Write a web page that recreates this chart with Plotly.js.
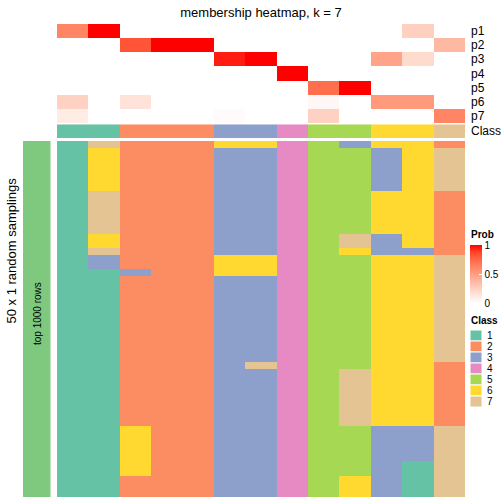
<!DOCTYPE html>
<html>
<head>
<meta charset="utf-8">
<script src="https://cdn.plot.ly/plotly-3.0.1.min.js"></script>
<style>html,body{margin:0;padding:0;background:#fff;}#chart{width:504px;height:504px;}</style>
</head>
<body>
<div id="chart"></div>
<script>
// ---- data ----
const rowLabels = ["p1","p2","p3","p4","p5","p6","p7"];
const p1 = [0.62,1,0,0,0,0,0,0,0,0,0,0.25,0];
const p2 = [0,0,0.82,1,1,0,0,0,0,0,0,0,0.37];
const p3 = [0,0,0,0,0,0.95,1,0,0,0,0.47,0.19,0];
const p4 = [0,0,0,0,0,0,0,1,0,0,0,0,0];
const p5 = [0,0,0,0,0,0,0,0,0.72,1,0,0,0];
const p6 = [0.24,0,0.15,0,0,0,0,0,0.04,0,0.52,0.52,0];
const p7 = [0.1,0,0,0,0,0.02,0,0,0.24,0,0,0,0.62];
const sampleClass = [1,1,2,2,2,3,3,4,5,5,6,6,7];
const classes = ["1","2","3","4","5","6","7"];
const classColors = ["#66C2A5","#FC8D62","#8DA0CB","#E78AC3","#A6D854","#FFD92F","#E5C494"];
const probTicks = [0,0.5,1];

// class per random sampling (50 rows) for each sample column
const s1  = [1,1,1,1,1,1,1,1,1,1,1,1,1,1,1,1,1,1,1,1,1,1,1,1,1,1,1,1,1,1,1,1,1,1,1,1,1,1,1,1,1,1,1,1,1,1,1,1,1,1];
const s2  = [7,6,6,6,6,6,6,7,7,7,7,7,7,6,6,7,3,3,1,1,1,1,1,1,1,1,1,1,1,1,1,1,1,1,1,1,1,1,1,1,1,1,1,1,1,1,1,1,1,1];
const s3  = [2,2,2,2,2,2,2,2,2,2,2,2,2,2,2,2,2,2,3,2,2,2,2,2,2,2,2,2,2,2,2,2,2,2,2,2,2,2,2,2,6,6,6,6,6,6,6,2,2,2];
const s4  = [2,2,2,2,2,2,2,2,2,2,2,2,2,2,2,2,2,2,2,2,2,2,2,2,2,2,2,2,2,2,2,2,2,2,2,2,2,2,2,2,2,2,2,2,2,2,2,2,2,2];
const s5  = [2,2,2,2,2,2,2,2,2,2,2,2,2,2,2,2,2,2,2,2,2,2,2,2,2,2,2,2,2,2,2,2,2,2,2,2,2,2,2,2,2,2,2,2,2,2,2,2,2,2];
const s6  = [6,3,3,3,3,3,3,3,3,3,3,3,3,3,3,3,6,6,6,3,3,3,3,3,3,3,3,3,3,3,3,3,3,3,3,3,3,3,3,3,3,3,3,3,3,3,3,3,3,3];
const s7  = [6,3,3,3,3,3,3,3,3,3,3,3,3,3,3,3,6,6,6,3,3,3,3,3,3,3,3,3,3,3,3,7,3,3,3,3,3,3,3,3,3,3,3,3,3,3,3,3,3,3];
const s8  = [4,4,4,4,4,4,4,4,4,4,4,4,4,4,4,4,4,4,4,4,4,4,4,4,4,4,4,4,4,4,4,4,4,4,4,4,4,4,4,4,4,4,4,4,4,4,4,4,4,4];
const s9  = [5,5,5,5,5,5,5,5,5,5,5,5,5,5,5,5,5,5,5,5,5,5,5,5,5,5,5,5,5,5,5,5,5,5,5,5,5,5,5,5,5,5,5,5,5,5,5,5,5,5];
const s10 = [3,5,5,5,5,5,5,5,5,5,5,5,5,7,7,6,5,5,5,5,5,5,5,5,5,5,5,5,5,5,5,5,7,7,7,7,7,7,7,7,5,5,5,5,5,5,5,6,6,6];
const s11 = [6,3,3,3,3,3,3,6,6,6,6,6,6,3,3,3,6,6,6,6,6,6,6,6,6,6,6,6,6,6,6,6,6,6,6,6,6,6,6,6,3,3,3,3,3,3,3,3,3,3];
const s12 = [6,6,6,6,6,6,6,6,6,6,6,6,6,6,6,3,6,6,6,6,6,6,6,6,6,6,6,6,6,6,6,6,6,6,6,6,6,6,6,6,3,3,3,3,3,1,1,1,1,1];
const s13 = [2,7,7,7,7,7,7,2,2,2,2,2,2,2,2,2,7,7,7,7,7,7,7,7,7,7,7,7,7,7,7,2,2,2,2,2,2,2,2,2,7,7,7,7,7,7,7,7,7,7];

const cols = [s1,s2,s3,s4,s5,s6,s7,s8,s9,s10,s11,s12,s13];
const nRows = s1.length;
const zBottom = [];
for (let r = 0; r < nRows; r++) zBottom.push(cols.map(c => c[r]));
const zTop = [p1,p2,p3,p4,p5,p6,p7];
const xIdx = sampleClass.map((_, i) => i);

// ---- styling ----
const W = 504, H = 504;
const px = v => v / W;
const py = v => 1 - v / H;
const FONT = "Liberation Sans, Arial, Helvetica, sans-serif";

const probScale = [[0,'#FFFFFF'],[0.125,'#FFE7DF'],[0.25,'#FFCFBF'],[0.375,'#FFB7A0'],
  [0.5,'#FF9E81'],[0.625,'#FF8464'],[0.75,'#FF6846'],[0.875,'#FF4527'],[1,'#FF0000']];
const classScale = [];
classColors.forEach((c, i) => {
  classScale.push([i / 7, c]);
  classScale.push([(i + 1) / 7, c]);
});

const traces = [
  { type: 'heatmap', z: zTop, x: xIdx, y: rowLabels.map((_, i) => i), xaxis: 'x', yaxis: 'y',
    colorscale: probScale, zmin: 0, zmax: 1, hoverinfo: 'skip',
    showscale: true,
    colorbar: { x: px(470), xanchor: 'left', y: py(274), yanchor: 'middle',
      thickness: 12, thicknessmode: 'pixels', len: 58, lenmode: 'pixels',
      xpad: 0, ypad: 0, outlinewidth: 0, tickvals: probTicks, ticktext: probTicks.map(String),
      ticks: 'inside', ticklen: 3, tickcolor: '#FFFFFF', tickwidth: 1,
      tickfont: { family: FONT, size: 10, color: '#000' } } },
  { type: 'heatmap', z: [sampleClass], x: xIdx, y: [0], xaxis: 'x', yaxis: 'y2',
    colorscale: classScale, zmin: 0.5, zmax: 7.5, showscale: false, hoverinfo: 'skip' },
  { type: 'heatmap', z: zBottom, x: xIdx, y: zBottom.map((_, i) => i), xaxis: 'x', yaxis: 'y3',
    colorscale: classScale, zmin: 0.5, zmax: 7.5, showscale: false, hoverinfo: 'skip' },
  { type: 'heatmap', z: [[1]], x: [0], y: [0], xaxis: 'x2', yaxis: 'y4',
    colorscale: [[0,'#7FC97F'],[1,'#7FC97F']], showscale: false, hoverinfo: 'skip' }
];

const hidden = { showgrid: false, zeroline: false, showticklabels: false, ticks: '', showline: false, fixedrange: true };

const annotations = [];
rowLabels.forEach((lab, i) => annotations.push({ text: lab, xref: 'paper', yref: 'y', x: px(469), y: i,
  xanchor: 'left', yanchor: 'middle', showarrow: false, font: { family: FONT, size: 12, color: '#000' } }));
annotations.push({ text: 'Class', xref: 'paper', yref: 'y2', x: px(469), y: 0, xanchor: 'left', yanchor: 'middle',
  showarrow: false, font: { family: FONT, size: 12, color: '#000' } });
annotations.push({ text: 'top 1000 rows', xref: 'paper', yref: 'paper', x: px(37), y: py(314), textangle: -90,
  xanchor: 'center', yanchor: 'middle', showarrow: false, font: { family: FONT, size: 10, color: '#000' } });
annotations.push({ text: '50 x 1 random samplings', xref: 'paper', yref: 'paper', x: px(10.5), y: py(251), textangle: -90,
  xanchor: 'center', yanchor: 'middle', showarrow: false, font: { family: FONT, size: 13, color: '#000' } });
annotations.push({ text: '<b>Prob</b>', xref: 'paper', yref: 'paper', x: px(469), y: py(234), xanchor: 'left', yanchor: 'middle',
  showarrow: false, font: { family: FONT, size: 10, color: '#000' } });
annotations.push({ text: '<b>Class</b>', xref: 'paper', yref: 'paper', x: px(469), y: py(320), xanchor: 'left', yanchor: 'middle',
  showarrow: false, font: { family: FONT, size: 10, color: '#000' } });

const shapes = [];
const legTop = 330, legH = 11;
classes.forEach((c, i) => {
  shapes.push({ type: 'rect', xref: 'paper', yref: 'paper', x0: px(470), x1: px(482),
    y0: py(legTop + i * legH), y1: py(legTop + (i + 1) * legH),
    fillcolor: classColors[i], line: { color: '#FFFFFF', width: 1 } });
  annotations.push({ text: c, xref: 'paper', yref: 'paper', x: px(485), y: py(legTop + (i + 0.5) * legH),
    xanchor: 'left', yanchor: 'middle', showarrow: false, font: { family: FONT, size: 10, color: '#000' } });
});

const layout = {
  width: W, height: H, margin: { l: 0, r: 0, t: 0, b: 0 },
  paper_bgcolor: '#FFFFFF', plot_bgcolor: '#FFFFFF',
  title: { text: 'membership heatmap, k = 7', x: px(261), xanchor: 'center', xref: 'paper',
    y: py(12), yanchor: 'middle', font: { family: FONT, size: 13, color: '#000' } },
  xaxis: Object.assign({ domain: [px(57), px(465)], range: [-0.5, 12.5], anchor: 'y3' }, hidden),
  xaxis2: Object.assign({ domain: [px(23), px(50.5)], range: [-0.5, 0.5], anchor: 'y4' }, hidden),
  yaxis: Object.assign({ domain: [py(123.3), py(24)], range: [6.5, -0.5], anchor: 'x' }, hidden),
  yaxis2: Object.assign({ domain: [py(138), py(124.3)], range: [-0.5, 0.5], anchor: 'x' }, hidden),
  yaxis3: Object.assign({ domain: [py(497), py(141)], range: [nRows - 0.5, -0.5], anchor: 'x' }, hidden),
  yaxis4: Object.assign({ domain: [py(497), py(141)], range: [-0.5, 0.5], anchor: 'x2' }, hidden),
  annotations: annotations, shapes: shapes, showlegend: false
};

Plotly.newPlot('chart', traces, layout, { staticPlot: true, displayModeBar: false });
</script>
</body>
</html>
